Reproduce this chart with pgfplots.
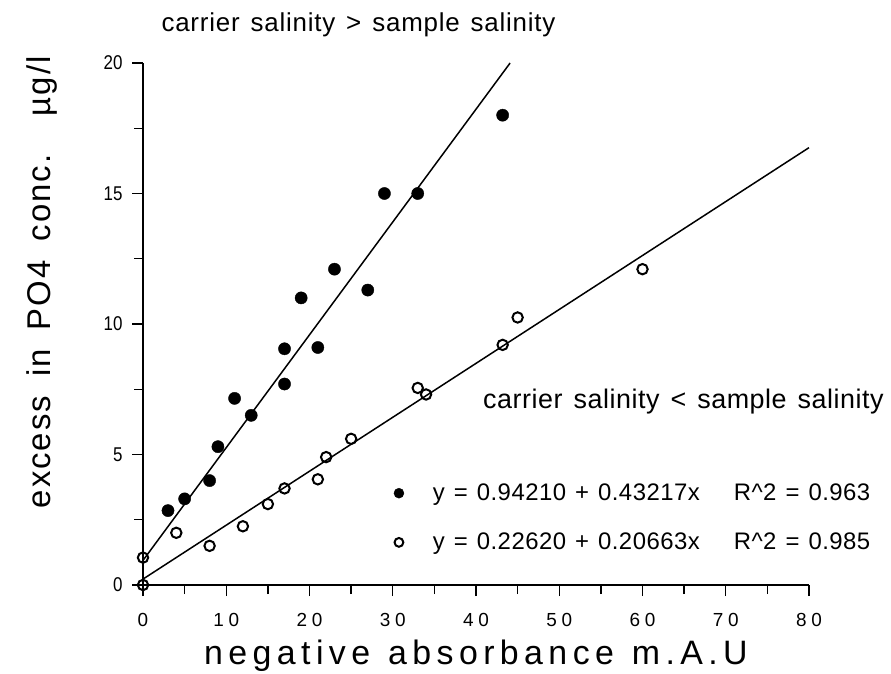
\documentclass[border=0pt]{standalone}
\usepackage{fontspec}
\setmainfont{Liberation Sans}
\newfontfamily\narrowfont[FakeStretch=0.85]{Liberation Sans}
\newfontfamily\tickfont[LetterSpace=24]{Liberation Sans}
\newfontfamily\labfont[LetterSpace=16]{Liberation Sans}
\newfontfamily\ylabfont[LetterSpace=6]{Liberation Sans}
\newfontfamily\legfont[LetterSpace=2]{Liberation Sans}
\newfontfamily\topfont[LetterSpace=3]{Liberation Sans}
\usepackage{pgfplots}
\pgfplotsset{compat=1.18}
\newcommand{\hs}{\hspace{9bp}}
\begin{document}
\begin{tikzpicture}
\useasboundingbox (0,0) rectangle (891bp,674bp);
\begin{axis}[
  at={(143bp,89bp)}, anchor=south west,
  scale only axis, width=666bp, height=522bp,
  xmin=0, xmax=80, ymin=0, ymax=20,
  axis x line*=bottom, axis y line*=left,
  axis line style={-, line width=1.5bp, black},
  xtick={0,10,...,80}, ytick={0,5,...,20},
  minor x tick num=1, minor y tick num=1,
  tick align=outside, major tick length=11bp, minor tick length=9bp,
  every tick/.style={line width=1.3bp, black},
  /pgf/number format/assume math mode=true,
  x tick label style={font=\tickfont\fontsize{19}{19}\selectfont},
  xticklabel shift=14bp,
  y tick label style={font=\narrowfont\fontsize{20}{20}\selectfont},
  yticklabel shift=6bp,
  xlabel={negative\hspace{18bp}absorbance\hspace{18bp}m.A.U},
  xlabel style={font=\labfont\fontsize{34}{34}\selectfont, at={(axis description cs:0.5,-0.153)}, anchor=base},
  ylabel={excess\hspace{8bp} in\hspace{8bp} PO4\hspace{8bp} conc.\hspace{24bp} µg/l},
  ylabel style={font=\ylabfont\fontsize{33}{33}\selectfont, at={(axis description cs:-0.152,0.58)}, anchor=center, rotate=0},
  title={carrier\hspace{11bp}salinity\hspace{11bp}>\hspace{11bp}sample\hspace{11bp}salinity},
  title style={font=\topfont\fontsize{26}{26}\selectfont, at={(axis description cs:0.3236,1.062)}, anchor=center},
  clip=false,
  legend cell align=left,
  legend style={draw=none, fill=none, at={(axis cs:29.4,3.95)}, anchor=north west,
    font=\legfont\fontsize{24}{24}\selectfont, row sep=31bp,
    nodes={inner sep=0pt}},
  legend image code/.code={\path[draw=none,fill=none] (-8bp,0) -- (34bp,0); \draw[#1, only marks] plot coordinates {(0bp,0bp)};},
]
\addplot[black, line width=1.5bp, forget plot] coordinates {(0,0.9421) (44.098,20)};
\addplot[black, line width=1.5bp, forget plot] coordinates {(0,0.2262) (80,16.7566)};
\addplot[only marks, mark=*, mark size=6.1bp, black, legend image post style={mark size=5bp}] coordinates {
(3,2.85) (5,3.3) (8,4.0) (9,5.3) (11,7.15) (13,6.5) (17,7.7) (17,9.05) (19,11.0)
(21,9.1) (23,12.1) (27,11.3) (29,15.0) (33,15.0) (43.2,18.0)
};
\addlegendentry{y\hs=\hs0.94210\hs+\hs0.43217x\hspace{34bp}R\textasciicircum2\hs=\hs0.963}
\addplot[only marks, mark=o, mark size=5.2bp, black, mark options={line width=2bp}, legend image post style={mark size=4.4bp}] coordinates {
(0,0) (0,1.05) (4,2.0) (8,1.5) (12,2.25) (15,3.1) (17,3.7) (21,4.05) (22,4.9)
(25,5.6) (33,7.55) (34,7.3) (43.2,9.2) (45,10.25) (60,12.1)
};
\addlegendentry{y\hs=\hs0.22620\hs+\hs0.20663x\hspace{34bp}R\textasciicircum2\hs=\hs0.985}
\node[font=\legfont\fontsize{27}{27}\selectfont, anchor=center] at (axis description cs:0.8115,0.3506) {carrier\hspace{11bp}salinity\hspace{11bp}<\hspace{11bp}sample\hspace{11bp}salinity};
\end{axis}
\end{tikzpicture}
\end{document}
